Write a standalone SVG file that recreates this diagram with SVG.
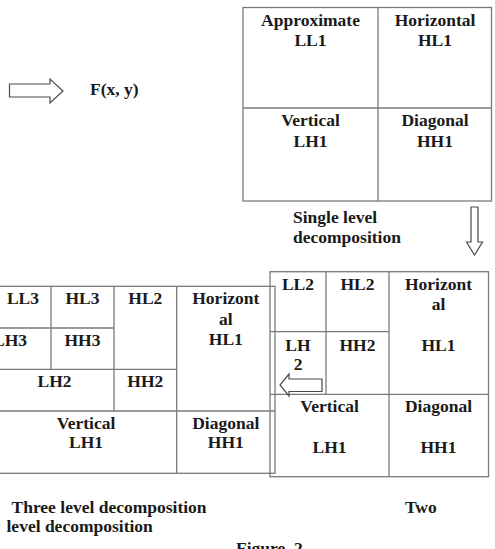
<svg xmlns="http://www.w3.org/2000/svg" width="495" height="549" viewBox="0 0 495 549">
  <style>
    .ln { fill: none; stroke: #7a7a7a; stroke-width: 1.3; }
    .ar { fill: #ffffff; stroke: #4a4a4a; stroke-width: 1.2; stroke-linejoin: miter; }
    text { font-family: "Liberation Serif", "Times New Roman", serif; font-weight: bold; font-size: 17.5px; fill: #1a1a1a; }
    .c { text-anchor: middle; }
  </style>

  <rect width="495" height="549" fill="#ffffff"/>

  <!-- input image label -->
  <g id="input">
    <text x="90" y="95">F(x, y)</text>
  </g>

  <!-- single level decomposition -->
  <g id="level1">
    <rect class="ln" x="243" y="7.5" width="248.5" height="193.5"/>
    <line class="ln" x1="378" y1="7.5" x2="378" y2="201"/>
    <line class="ln" x1="243" y1="108" x2="491.5" y2="108"/>
    <g id="l1-LL1">
      <text class="c" x="310.5" y="26">Approximate</text>
      <text class="c" x="310.5" y="46">LL1</text>
    </g>
    <g id="l1-HL1">
      <text class="c" x="435" y="26">Horizontal</text>
      <text class="c" x="435" y="46">HL1</text>
    </g>
    <g id="l1-LH1">
      <text class="c" x="310.5" y="126">Vertical</text>
      <text class="c" x="310.5" y="146.5">LH1</text>
    </g>
    <g id="l1-HH1">
      <text class="c" x="435" y="126">Diagonal</text>
      <text class="c" x="435" y="146.5">HH1</text>
    </g>
  </g>

  <g id="caption-single">
    <text x="293" y="223">Single level</text>
    <text x="293" y="243">decomposition</text>
  </g>

  <!-- two level decomposition -->
  <g id="level2">
    <rect class="ln" x="270" y="271.7" width="218.5" height="205"/>
    <line class="ln" x1="389" y1="271.7" x2="389" y2="476.7"/>
    <line class="ln" x1="270" y1="394.3" x2="488.5" y2="394.3"/>
    <line class="ln" x1="326" y1="271.7" x2="326" y2="394.3"/>
    <line class="ln" x1="270" y1="331.7" x2="389" y2="331.7"/>
    <g id="l2-LL2"><text class="c" x="298" y="289.5">LL2</text></g>
    <g id="l2-HL2"><text class="c" x="357.5" y="289.5">HL2</text></g>
    <g id="l2-HL1">
      <text class="c" x="438.5" y="289.5">Horizont</text>
      <text class="c" x="438.5" y="310">al</text>
      <text class="c" x="438.5" y="350.5">HL1</text>
    </g>
    <g id="l2-LH2">
      <text class="c" x="298" y="350.5">LH</text>
      <text class="c" x="298" y="370">2</text>
    </g>
    <g id="l2-HH2"><text class="c" x="357.5" y="350.5">HH2</text></g>
    <g id="l2-LH1">
      <text class="c" x="329.5" y="412.3">Vertical</text>
      <text class="c" x="329.5" y="452.5">LH1</text>
    </g>
    <g id="l2-HH1">
      <text class="c" x="438.5" y="412.3">Diagonal</text>
      <text class="c" x="438.5" y="452.5">HH1</text>
    </g>
  </g>

  <!-- three level decomposition -->
  <g id="level3">
    <rect class="ln" x="-5" y="286.3" width="280" height="187"/>
    <line class="ln" x1="51" y1="286.3" x2="51" y2="369.3"/>
    <line class="ln" x1="114" y1="286.3" x2="114" y2="411"/>
    <line class="ln" x1="176.7" y1="286.3" x2="176.7" y2="473.3"/>
    <line class="ln" x1="-5" y1="328" x2="114" y2="328"/>
    <line class="ln" x1="-5" y1="369.3" x2="176.7" y2="369.3"/>
    <line class="ln" x1="-5" y1="411" x2="275" y2="411"/>
    <g id="l3-LL3"><text class="c" x="23" y="304">LL3</text></g>
    <g id="l3-HL3"><text class="c" x="82.5" y="304">HL3</text></g>
    <g id="l3-HL2"><text class="c" x="145.3" y="304">HL2</text></g>
    <g id="l3-HL1">
      <text class="c" x="225.8" y="304">Horizont</text>
      <text class="c" x="225.8" y="324.5">al</text>
      <text class="c" x="225.8" y="345">HL1</text>
    </g>
    <g id="l3-LH3"><text class="c" x="10" y="345.5">LH3</text></g>
    <g id="l3-HH3"><text class="c" x="82.5" y="345.5">HH3</text></g>
    <g id="l3-LH2"><text class="c" x="54.5" y="387">LH2</text></g>
    <g id="l3-HH2"><text class="c" x="145.3" y="387">HH2</text></g>
    <g id="l3-LH1">
      <text class="c" x="86" y="429">Vertical</text>
      <text class="c" x="86" y="448">LH1</text>
    </g>
    <g id="l3-HH1">
      <text class="c" x="225.8" y="429">Diagonal</text>
      <text class="c" x="225.8" y="448">HH1</text>
    </g>
  </g>

  <!-- block arrows between stages -->
  <g id="connectors">
    <polygon class="ar" points="9.5,84 50,84 50,79 63,91 50,103 50,97 9.5,97"/>
    <polygon class="ar" points="471,207 478,207 478,242 482.5,242 474.5,255 466.5,242 471,242"/>
    <polygon class="ar" points="322,379 289,379 289,374 280,385 289,396 289,391.5 322,391.5"/>
  </g>

  <g id="captions">
    <text x="11.5" y="512.7">Three level decomposition</text>
    <text x="405" y="512.7">Two</text>
    <text x="6.5" y="531.7">level decomposition</text>
    <text x="236" y="554">Figure. 2</text>
  </g>
</svg>
